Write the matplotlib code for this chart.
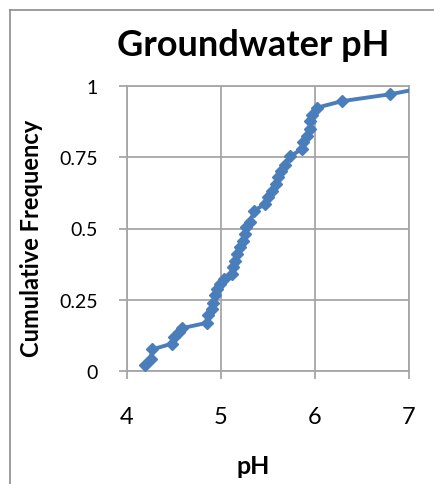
import matplotlib
matplotlib.use("Agg")
from matplotlib import pyplot as plt
from matplotlib.lines import Line2D

plt.rcParams.update({'font.family': ['Lato', 'DejaVu Sans']})

# values
ph = [4.19, 4.25, 4.27, 4.48, 4.50, 4.55, 4.58, 4.85, 4.86, 4.90,
      4.92, 4.94, 4.96, 4.99, 5.03, 5.12, 5.13, 5.15, 5.17, 5.20,
      5.23, 5.26, 5.27, 5.31, 5.35, 5.47, 5.50, 5.54, 5.58, 5.61,
      5.64, 5.68, 5.73, 5.86, 5.87, 5.91, 5.95, 5.95, 5.97, 6.02,
      6.29, 6.80, 7.10]
cum_freq = [0.022, 0.043, 0.076, 0.096, 0.119, 0.137, 0.150, 0.169, 0.195, 0.218,
            0.239, 0.265, 0.286, 0.306, 0.323, 0.341, 0.364, 0.387, 0.411, 0.434,
            0.457, 0.481, 0.504, 0.522, 0.562, 0.586, 0.609, 0.632, 0.656, 0.679,
            0.702, 0.722, 0.753, 0.778, 0.802, 0.825, 0.848, 0.877, 0.900, 0.924,
            0.947, 0.971, 0.990]
x_ticks = [4, 5, 6, 7]
y_ticks = [0, 0.25, 0.5, 0.75, 1]
y_tick_labels = ['0', '0.25', '0.5', '0.75', '1']

W, H = 434, 485
fig = plt.figure(figsize=(W / 100, H / 100), dpi=100)
ax = fig.add_axes([127 / W, 1 - 372 / H, (409 - 127) / W, (372 - 87) / H])

ax.plot(ph, cum_freq, color='#4A7EBB', linewidth=2.8, marker='D',
        markersize=6.5, zorder=3)

ax.set_xlim(4, 7)
ax.set_ylim(0, 1)
ax.set_xticks(x_ticks)
ax.set_yticks(y_ticks)
ax.set_yticklabels(y_tick_labels)
ax.grid(True, color='#A6A6A6', linewidth=1.3)
ax.set_axisbelow(True)
for side in ['top', 'right', 'left', 'bottom']:
    ax.spines[side].set_color('#A6A6A6')
    ax.spines[side].set_linewidth(1.3)
ax.tick_params(axis='both', color='#A6A6A6', length=6, width=1.3)
ax.tick_params(axis='x', labelsize=17, pad=19)
ax.tick_params(axis='y', labelsize=14, pad=15)

ax.set_xlabel('pH', fontsize=18, fontweight='bold')
ax.xaxis.set_label_coords((253 - 127) / (409 - 127), -(467 - 372) / (372 - 87))
ax.set_ylabel('Cumulative Frequency', fontsize=17, fontweight='bold')
ax.yaxis.set_label_coords(-(127 - 32) / (409 - 127), (372 - 238) / (372 - 87))
ax.yaxis.label.set_va('center')
ax.xaxis.label.set_va('center')
fig.text(253 / W, 1 - 45 / H, 'Groundwater pH', fontsize=26, fontweight='bold',
         ha='center', va='center')

# chart frame (cropped at right and bottom)
fig.add_artist(Line2D([10 / W, 1.0], [1 - 11 / H, 1 - 11 / H],
                      color='#8C8C8C', linewidth=1.2))
fig.add_artist(Line2D([10 / W, 10 / W], [0.0, 1 - 11 / H],
                      color='#8C8C8C', linewidth=1.2))

plt.savefig('out.png', dpi=100)
